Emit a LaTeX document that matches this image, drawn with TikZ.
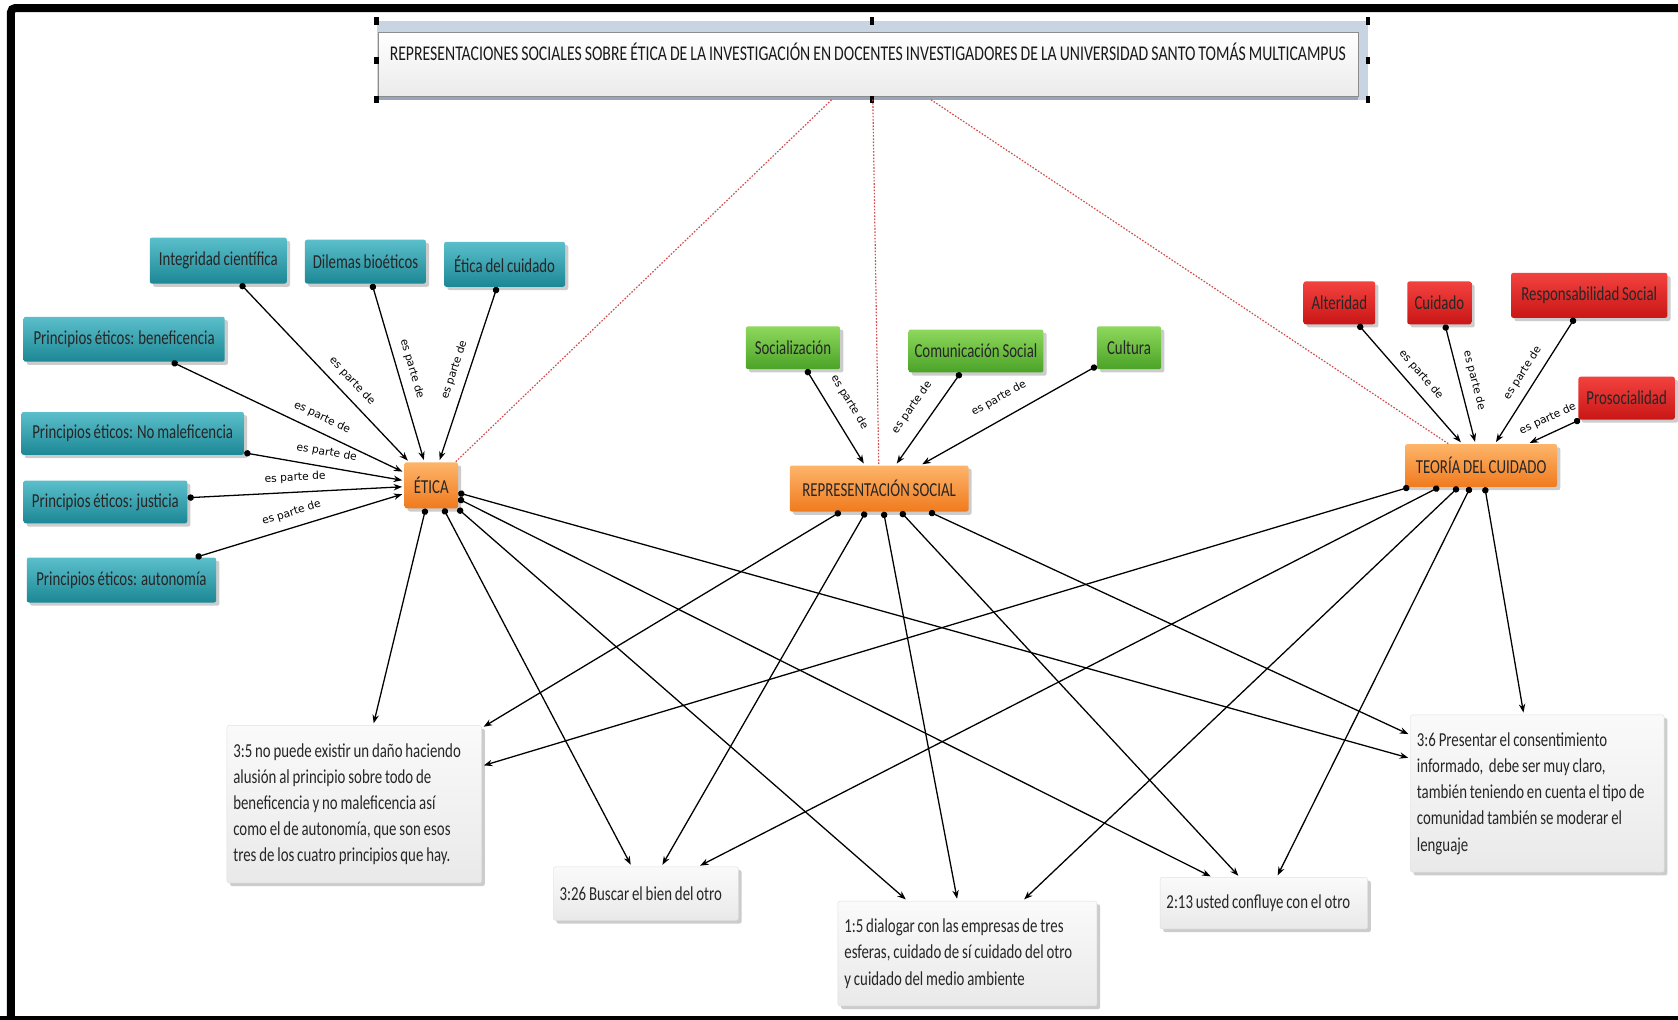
\documentclass[tikz,border=0pt]{standalone}
\usepackage{fontspec}
\setmainfont[FakeStretch=0.75,WordSpace=0.85]{Carlito}
\newfontfamily\enlacefont{DejaVu Sans}
\usepackage{tikz}
\usetikzlibrary{arrows.meta,shadows,calc,positioning}

\definecolor{tealtop}{HTML}{5BBFCB}
\definecolor{tealbot}{HTML}{1C8795}
\definecolor{verdetop}{HTML}{8ED85C}
\definecolor{verdebot}{HTML}{4AA327}
\definecolor{rojotop}{HTML}{F2423E}
\definecolor{rojobot}{HTML}{C91616}
\definecolor{naranjatop}{HTML}{FDB56A}
\definecolor{naranjabot}{HTML}{F07A1E}
\definecolor{notatop}{HTML}{FAFAFA}
\definecolor{notabot}{HTML}{E9E9E9}
\definecolor{marcoazul}{HTML}{C9D4E2}
\definecolor{marcosombra}{HTML}{8A9BB2}
\definecolor{rojopunto}{HTML}{D24A4A}

\tikzset{
  caja/.style={rectangle,rounded corners=2pt,inner sep=4pt,text=black!85,
    font=\fontsize{18.5}{22}\selectfont,
    drop shadow={shadow xshift=3pt,shadow yshift=-3pt,opacity=.4}},
  azul/.style={caja,top color=tealtop,bottom color=tealbot},
  verde/.style={caja,top color=verdetop,bottom color=verdebot},
  rojo/.style={caja,top color=rojotop,bottom color=rojobot},
  naranja/.style={caja,top color=naranjatop,bottom color=naranjabot},
  nota/.style={caja,top color=notatop,bottom color=notabot,draw=black!12,
    inner sep=6pt,align=flush left,font=\fontsize{18.5}{24.5}\selectfont},
  titulo/.style={rectangle,top color=white,bottom color=black!8,draw=black!45,
    minimum width=916pt,inner xsep=5pt,inner ysep=15pt,text height=12pt,text depth=18pt,
    font=\fontsize{19.6}{23}\selectfont,text=black!90,
    drop shadow={shadow xshift=0pt,shadow yshift=-3pt,fill=marcosombra,opacity=.8}},
  enlace/.style={arrows={Circle[length=6pt]-Stealth[length=8pt,width=6pt]},
    line width=1.2pt,black,shorten >=2pt},
  parte/.style={font=\enlacefont\fontsize{10}{12}\selectfont,sloped,above=7pt,inner sep=1pt},
  punteado/.style={rojopunto,line width=1.1pt,dash pattern=on 1.5pt off 1.5pt},
}

\begin{document}
\begin{tikzpicture}[x=1pt,y=-1pt]
\useasboundingbox (0,0) rectangle (1568,953);
\fill[white] (0,0) rectangle (1568,953);
\draw[line width=7.5pt,rounded corners=4pt] (10.25,953) -- (10.25,7.5) -- (1568,7.5);
\fill (0,949.5) rectangle (1568,953);

\node[rectangle,fill=marcoazul,minimum width=926pt,minimum height=73pt,inner sep=0] (marco) at (815,56.5) {};
\node[titulo] (titulo) at (811,60) {REPRESENTACIONES SOCIALES SOBRE ÉTICA DE LA INVESTIGACIÓN EN DOCENTES INVESTIGADORES DE LA UNIVERSIDAD SANTO TOMÁS MULTICAMPUS};
\foreach \a in {north west,north,north east,west,east,south west,south,south east}
  \fill ($(marco.\a)+(-2,-3.5)$) rectangle +(4,7);

\node[azul,minimum width=128pt,minimum height=43pt] (integ) at (204,243.5) {Integridad científica};
\node[azul,minimum width=113pt,minimum height=41pt] (dilem) at (341.5,244.5) {Dilemas bioéticos};
\node[azul,minimum width=113pt,minimum height=42pt] (eticacui) at (471.5,247) {Ética del cuidado};
\node[azul,minimum width=188pt,minimum height=42pt] (benef) at (116,317) {Principios éticos: beneficencia};
\node[azul,minimum width=208pt,minimum height=40pt] (nomal) at (124,405) {Principios éticos: No maleficencia};
\node[azul,minimum width=153pt,minimum height=40pt] (justi) at (98.5,469) {Principios éticos: justicia};
\node[azul,minimum width=177pt,minimum height=42pt] (auton) at (113.5,542) {Principios éticos: autonomía};

\node[naranja,minimum width=50pt,minimum height=43pt] (etica) at (403,453.5) {ÉTICA};
\node[naranja,minimum width=167pt,minimum height=43pt] (repsoc) at (821.5,456.5) {REPRESENTACIÓN SOCIAL};
\node[naranja,minimum width=142pt,minimum height=40pt] (teoria) at (1384,435) {TEORÍA DEL CUIDADO};

\node[verde,minimum width=88pt,minimum height=40pt] (social) at (741,325) {Socialización};
\node[verde,minimum width=126pt,minimum height=40pt] (comsoc) at (912,328) {Comunicación Social};
\node[verde,minimum width=60pt,minimum height=40pt] (cultura) at (1055,325) {Cultura};

\node[rojo,minimum width=67pt,minimum height=40pt] (alter) at (1251.5,283) {Alteridad};
\node[rojo,minimum width=60pt,minimum height=40pt] (cuidado) at (1345,283) {Cuidado};
\node[rojo,minimum width=146pt,minimum height=42pt] (respons) at (1485,276) {Responsabilidad Social};
\node[rojo,minimum width=90pt,minimum height=40pt] (prosoc) at (1520,372) {Prosocialidad};

\node[nota,text width=226pt,minimum height=147pt] (nota35) at (331,751.5) {3:5 no puede existir un daño haciendo\\alusión al principio sobre todo de\\beneficencia y no maleficencia así\\como el de autonomía, que son esos\\tres de los cuatro principios que hay.};
\node[nota,text width=161pt,minimum height=50pt] (nota326) at (603.5,835) {3:26 Buscar el bien del otro};
\node[nota,text width=230pt,minimum height=98pt] (nota15) at (904,891) {1:5 dialogar con las empresas de tres\\esferas, cuidado de sí cuidado del otro\\y cuidado del medio ambiente};
\node[nota,text width=182pt,minimum height=48pt] (nota213) at (1181,844) {2:13 usted confluye con el otro};
\node[nota,text width=225pt,minimum height=147pt] (nota36) at (1436.5,741.5) {3:6 Presentar el consentimiento\\informado,\ \ debe ser muy claro,\\también teniendo en cuenta el tipo de\\comunidad también se moderar el\\lenguaje};

\foreach \c in {etica,repsoc,teoria}
  \draw[punteado] (marco) -- (\c);

\foreach \s/\p in {integ/.6,dilem/.5,eticacui/.5,benef/.62,nomal/.5,justi/.5,auton/.48}
  \draw[enlace] (\s) -- node[parte,pos=\p] {es parte de} (etica);
\foreach \s/\p in {social/.45,comsoc/.5,cultura/.5}
  \draw[enlace] (\s) -- node[parte,pos=\p,above=12pt] {es parte de} (repsoc);
\foreach \s/\p in {alter/.5,cuidado/.5,respons/.5,prosoc/.5}
  \draw[enlace] (\s) -- node[parte,pos=\p] {es parte de} (teoria);

\foreach \c in {etica,repsoc,teoria}
  \foreach \n in {nota35,nota326,nota15,nota213,nota36}
    \draw[enlace] (\c) -- (\n);
\end{tikzpicture}
\end{document}
